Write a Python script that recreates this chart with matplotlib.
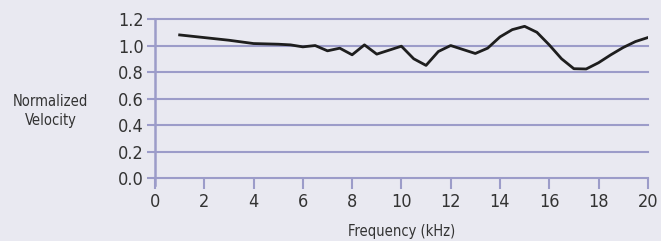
import matplotlib.pyplot as plt

# frequency (kHz) and normalized velocity
freq = [1.0, 2.0, 3.0, 4.0, 5.0, 5.5, 6.0, 6.5, 7.0, 7.5, 8.0, 8.5, 9.0, 9.5,
        10.0, 10.5, 11.0, 11.5, 12.0, 12.5, 13.0, 13.5, 14.0, 14.5, 15.0, 15.5,
        16.0, 16.5, 17.0, 17.5, 18.0, 18.5, 19.0, 19.5, 20.0]
velocity = [1.08, 1.06, 1.04, 1.015, 1.01, 1.005, 0.99, 1.0, 0.96, 0.98, 0.93,
            1.005, 0.935, 0.965, 0.995, 0.9, 0.85, 0.955, 1.0, 0.97, 0.94, 0.98,
            1.065, 1.12, 1.145, 1.1, 1.005, 0.9, 0.825, 0.823, 0.87, 0.93,
            0.985, 1.03, 1.06]
xticks = list(range(0, 21, 2))
yticks = [0.0, 0.2, 0.4, 0.6, 0.8, 1.0, 1.2]

bg = '#e9e9f1'
grid_c = '#9c9cc9'
text_c = '#333333'
plt.rcParams['font.family'] = ['DejaVu Sans']
plt.rcParams['font.stretch'] = 'condensed'

fig = plt.figure(figsize=(6.61, 2.41), dpi=100, facecolor=bg)
ax = fig.add_axes([0.2345, 0.2614, 0.7455, 0.6596], facecolor=bg)

for y in yticks:
    ax.axhline(y, color=grid_c, lw=1.5, zorder=1, clip_on=False)
ax.plot(freq, velocity, color='#1e1e1e', lw=2.0, zorder=3)

ax.set_xlim(0, 20)
ax.set_ylim(0, 1.2)
ax.set_xticks(xticks)
ax.set_xticklabels([str(t) for t in xticks])
ax.set_yticks(yticks)
ax.set_yticklabels(['%.1f' % t for t in yticks])
for s in ['top', 'right', 'bottom']:
    ax.spines[s].set_visible(False)
ax.spines['left'].set_color(grid_c)
ax.spines['left'].set_linewidth(1.8)
ax.spines['left'].set_bounds(-0.05, 1.2)
ax.spines['left'].set_clip_on(False)
ax.tick_params(axis='x', colors=grid_c, length=8, width=1.5, labelcolor=text_c,
               labelsize=13, pad=3)
ax.tick_params(axis='y', colors=grid_c, length=6, width=1.5, labelcolor=text_c,
               labelsize=13, pad=2)

ax.set_xlabel('Frequency (kHz)', fontsize=10.5, color=text_c, labelpad=9)
fig.text(0.077, 0.54, 'Normalized\nVelocity', ha='center', va='center',
         fontsize=10.5, color=text_c, linespacing=1.3)

fig.savefig('out.png', dpi=100, facecolor=bg)
